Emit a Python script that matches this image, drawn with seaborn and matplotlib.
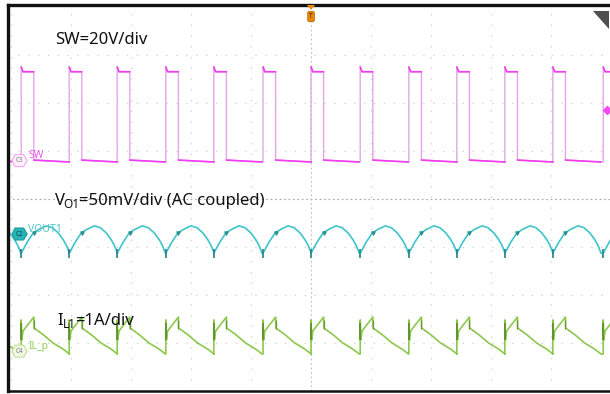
import matplotlib
matplotlib.use("Agg")
import numpy as np
import pandas as pd
import seaborn as sns
import matplotlib.pyplot as plt
from matplotlib.patches import Polygon
from matplotlib.transforms import offset_copy

# scope screen: 10 x 8 divisions, values in divisions
# rising edges of the switch node (read from the screen)
edges = [-0.64, 0.17, 0.97, 1.77, 2.58, 3.38, 4.20, 5.00, 5.82, 6.63, 7.43, 8.23, 9.03, 9.87]

# one switching period of each trace: offset from edge, level (div)
sw_dt = [0.0, 0.0, 0.03, 0.21, 0.21, 0.50, 0.805]
sw_v = [0.77, 2.75, 2.65, 2.65, 0.81, 0.79, 0.77]

vo_dt = [0.0, 0.10, 0.20, 0.30, 0.42, 0.52, 0.62, 0.70, 0.75, 0.805]
vo_v = [-1.13, -0.90, -0.71, -0.63, -0.56, -0.60, -0.71, -0.85, -0.96, -1.13]

il_dt = [0.0, 0.0, 0.01, 0.03, 0.21, 0.215, 0.37, 0.53, 0.70, 0.805]
il_v = [-3.23, -2.52, -2.94, -2.75, -2.46, -2.69, -2.83, -3.00, -3.13, -3.23]

SW_C = "#f23cf2"
VO_C = "#3ec4c9"
IL_C = "#8cc84b"


def trace(dt, v, split=None):
    xs, ys, us = [], [], []
    for k, e in enumerate(edges):
        for i, (d, y) in enumerate(zip(dt, v)):
            xs.append(e + d)
            ys.append(y)
            us.append(k * 2 + (1 if split is not None and i >= split else 0))
    return pd.DataFrame({"t": xs, "v": ys, "u": us})


sns.set_style("white")
plt.rcParams["font.family"] = ["Noto Sans", "DejaVu Sans"]

fig = plt.figure(figsize=(6.10, 3.94), dpi=100)
ax = fig.add_axes([8 / 610, 3 / 394, 602 / 610, 386 / 394])
ax.set_xlim(-0.05, 9.983)
ax.set_ylim(-4.0, 4.04)

# graticule
for gx in range(0, 10):
    if gx == 5:
        continue
    ax.axvline(gx, color="#cfcfcf", lw=0.9, ls=(0, (1, 7.6)), zorder=0)
for gy in range(-3, 4):
    if gy == 0:
        continue
    ax.axhline(gy, color="#cfcfcf", lw=0.9, ls=(0, (1, 6.9)), zorder=0)
ax.axhline(0, color="#a8a8a8", lw=0.8, ls=(0, (1.5, 2.5)), zorder=0)
ax.axvline(5, color="#bcbcbc", lw=0.8, ls=(0, (1.5, 2.5)), zorder=0)

# switch node: faint edges, bright levels
sw = trace(sw_dt, sw_v)
sns.lineplot(data=sw, x="t", y="v", sort=False, estimator=None,
             color="#e3a8e3", lw=1.0, ax=ax)
sw_lv = trace(sw_dt[1:4] + sw_dt[4:], sw_v[1:4] + sw_v[4:], split=3)
sns.lineplot(data=sw_lv, x="t", y="v", units="u", sort=False, estimator=None,
             color=SW_C, lw=1.2, ax=ax)

sns.lineplot(data=trace(vo_dt, vo_v), x="t", y="v", sort=False, estimator=None,
             color=VO_C, lw=1.2, ax=ax)
sns.lineplot(data=trace(il_dt, il_v), x="t", y="v", sort=False, estimator=None,
             color=IL_C, lw=1.2, ax=ax)

# ringing / persistence marks at the edges
ed = np.array(edges)
ax.vlines(ed, -1.22, -1.05, color="#1f8286", lw=1.2)
ax.scatter(ed + 0.21, np.full(len(ed), -0.71), marker="v", s=5, color="#2a9094", zorder=4)
ax.vlines(ed, -2.94, -2.58, color="#5b8a2a", lw=1.2)
ax.vlines(ed + 0.21, -2.70, -2.52, color="#6a9a36", lw=0.9)

ax.set_xlabel("")
ax.set_ylabel("")
ax.set_xticks([])
ax.set_yticks([])
ax.spines["right"].set_visible(False)
ax.spines["left"].set_linewidth(2.4)
ax.spines["top"].set_linewidth(2.4)
ax.spines["bottom"].set_linewidth(1.8)
for s in ["left", "top", "bottom"]:
    ax.spines[s].set_color("#111111")

# annotations (subscripts built from separate texts)
FS = 12
ax.text(0.73, 3.31, "SW=20V/div", fontsize=FS, va="center", ha="left", color="#111111")


def sub_label(x, y, main, sub, rest, tuck):
    t1 = ax.text(x, y, main, fontsize=FS, va="baseline", ha="left", color="#111111")
    fig.canvas.draw()
    w1 = t1.get_window_extent().width * 72 / fig.dpi - tuck
    tr = offset_copy(ax.transData, fig=fig, x=w1, y=-1.8, units="points")
    t2 = ax.text(x, y, sub, fontsize=8.5, va="baseline", ha="left", color="#111111",
                 transform=tr)
    fig.canvas.draw()
    w2 = t2.get_window_extent().width * 72 / fig.dpi - 0.6
    tr2 = offset_copy(ax.transData, fig=fig, x=w1 + w2, y=0, units="points")
    ax.text(x, y, rest, fontsize=FS, va="baseline", ha="left", color="#111111", transform=tr2)


sub_label(0.73, -0.13, "V", "O1", "=50mV/div (AC coupled)", 1.0)
sub_label(0.77, -2.63, "I", "L1", "=1A/div", 0.0)


# channel tags
def tag(yc, label, name, fc, ec, tc, nc):
    x0, x1, h = 0.017, 0.27, 0.25
    pts = [(x0 + 0.05, yc + h / 2), (x1 - 0.06, yc + h / 2), (x1, yc),
           (x1 - 0.06, yc - h / 2), (x0 + 0.05, yc - h / 2), (x0, yc)]
    ax.add_patch(Polygon(pts, closed=True, fc=fc, ec=ec, lw=0.8, zorder=5))
    ax.text((x0 + x1) / 2, yc, label, fontsize=4.5, color=tc, ha="center", va="center", zorder=6)
    ax.text(0.29, yc + 0.10, name, fontsize=7.5, color=nc, ha="left", va="center", zorder=6)


tag(0.80, "C3", "SW", "#fdf0fd", "#f4a6f4", "#777777", "#e55ae5")
tag(-0.73, "C2", "VOUT1", "#24b3b6", "#1d9ea1", "#0b4c4e", "#52c6cc")
tag(-3.17, "C4", "IL_p", "#f1f8e6", "#c2e09a", "#777777", "#96cf62")

# trigger marker, level marker, corner icon
ax.add_patch(Polygon([(4.93, 4.04), (5.07, 4.04), (5.0, 3.94)], closed=True,
                     fc="#f08a10", ec="none", clip_on=False, zorder=6))
ax.text(5.0, 3.80, "T", fontsize=4.5, color="#3a2000", ha="center", va="center", zorder=7,
        bbox=dict(boxstyle="round,pad=0.25", fc="#e8870e", ec="#c06a00", lw=0.6))
ax.plot([9.93], [1.85], marker="D", ms=4.5, color="#f04cf0", clip_on=False, zorder=6)
ax.add_patch(Polygon([(9.70, 3.92), (9.97, 3.92), (9.97, 3.54)], closed=True,
                     fc="#505050", ec="none", zorder=6))

fig.savefig("out.png", dpi=100)
